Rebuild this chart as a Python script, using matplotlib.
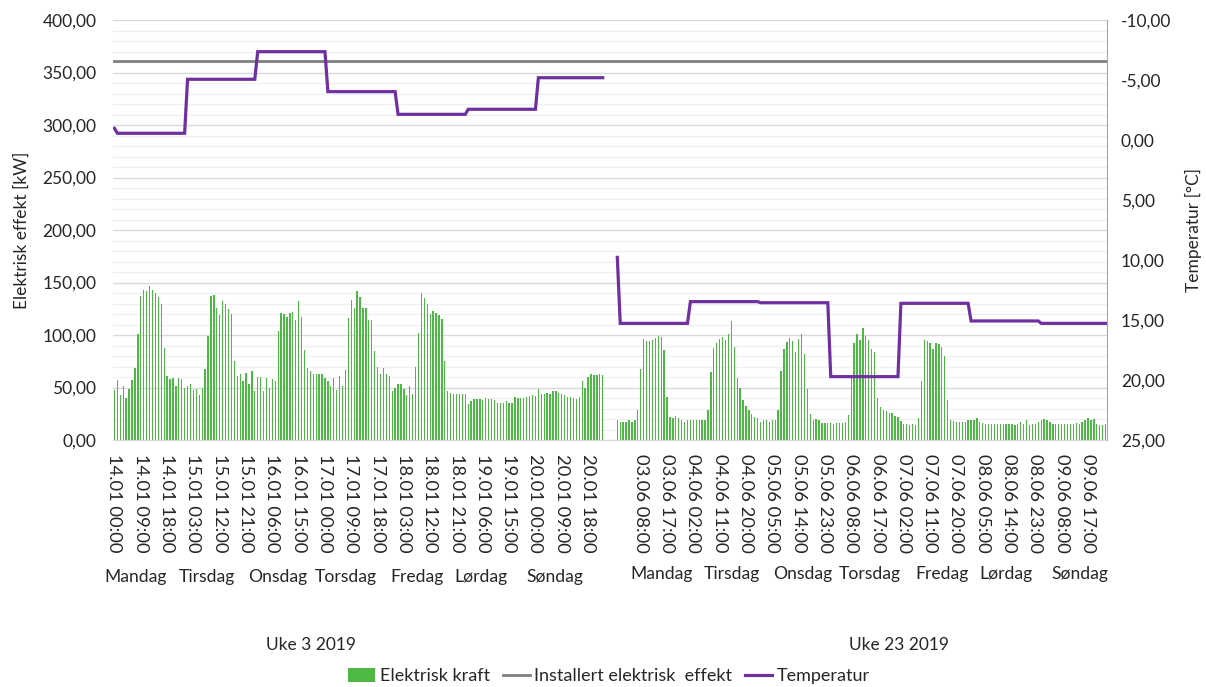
import numpy as np
import matplotlib
matplotlib.use("Agg")
import matplotlib.pyplot as plt
from matplotlib.ticker import MultipleLocator, FuncFormatter
from matplotlib.patches import Patch
from matplotlib.lines import Line2D

plt.rcParams['font.family'] = ['Lato', 'DejaVu Sans']

# ---------------- data ----------------
# Hourly electric power [kW], week 3 2019 (14.01 00:00 - 20.01 23:00)
week3_power = [
    48, 57, 43, 51, 40, 49, 57, 69, 101, 137, 143, 142, 147, 143, 140, 136, 130, 88, 61, 58, 59, 51, 59, 58,
    50, 51, 53, 48, 49, 43, 50, 68, 99, 137, 138, 126, 119, 132, 130, 125, 120, 75, 61, 63, 56, 64, 53, 66,
    47, 60, 60, 47, 59, 50, 58, 56, 104, 121, 120, 117, 121, 122, 114, 132, 117, 86, 69, 66, 63, 63, 63, 63,
    59, 56, 51, 59, 48, 61, 51, 67, 116, 133, 126, 142, 136, 126, 126, 114, 114, 85, 70, 63, 69, 63, 61, 47,
    50, 53, 53, 49, 43, 51, 44, 70, 102, 140, 135, 130, 120, 123, 121, 119, 115, 75, 47, 45, 44, 44, 44, 44,
    44, 34, 37, 39, 39, 39, 38, 40, 39, 39, 38, 35, 35, 35, 37, 35, 35, 41, 40, 40, 40, 41, 42, 43,
    42, 49, 44, 44, 45, 44, 47, 47, 45, 44, 43, 41, 41, 40, 39, 41, 56, 50, 60, 63, 62, 62, 63, 62,
]
# Hourly electric power [kW], week 23 2019 (03.06 00:00 - 09.06 23:00)
week23_power = [
    19, 17.5, 17.5, 17.5, 19, 17.5, 19, 28.6, 68, 96, 94, 94, 95, 97, 99, 98, 86, 41, 22, 21, 23, 21, 19, 17.5,
    19, 19, 19, 19, 19, 19, 19, 28.6, 65, 88, 92, 96, 98, 95, 101, 113, 89, 59, 50, 38, 32, 29, 25, 22,
    21, 17.5, 19, 19, 17.5, 19, 19, 28.6, 66, 87, 93, 97, 94, 84, 96, 101, 82, 49, 25, 19, 20, 19, 16, 16,
    16, 16, 15, 16, 16, 16, 17.5, 24, 62, 92, 101, 95, 107, 99, 95, 87, 84, 40, 31, 29, 28, 26, 26, 23,
    22, 18, 15, 15, 14, 15, 14, 21, 56, 95, 94, 92, 87, 92, 91, 89, 80, 38, 19, 18, 17, 17, 17.5, 17.5,
    19, 19, 19, 21, 17.5, 16, 15, 15, 15, 15, 15, 15, 15, 15, 15, 15, 14, 15, 17.5, 15, 19, 14, 15, 15,
    17, 19, 20, 19, 17, 15, 15, 15, 15, 15, 15, 15, 15, 16, 15, 17.5, 19, 21, 19, 20, 15, 14, 14, 15,
]
# Daily temperature [°C] (first entry = value at first hour, then Mon..Sun)
week3_temp_daily = [-0.97, -0.56, -5.06, -7.36, -4.03, -2.14, -2.56, -5.19]
week23_temp_daily = [9.78, 15.28, 13.47, 13.56, 19.72, 13.61, 15.08, 15.28]
installed_power = 361.0
gap_hours = 4

week3_ticklabels = ["14.01 00:00", "14.01 09:00", "14.01 18:00", "15.01 03:00", "15.01 12:00",
                    "15.01 21:00", "16.01 06:00", "16.01 15:00", "17.01 00:00", "17.01 09:00",
                    "17.01 18:00", "18.01 03:00", "18.01 12:00", "18.01 21:00", "19.01 06:00",
                    "19.01 15:00", "20.01 00:00", "20.01 09:00", "20.01 18:00"]
week23_ticklabels = ["", "03.06 08:00", "03.06 17:00", "04.06 02:00", "04.06 11:00", "04.06 20:00",
                     "05.06 05:00", "05.06 14:00", "05.06 23:00", "06.06 08:00", "06.06 17:00",
                     "07.06 02:00", "07.06 11:00", "07.06 20:00", "08.06 05:00", "08.06 14:00",
                     "08.06 23:00", "09.06 08:00", "09.06 17:00"]
days = ["Mandag", "Tirsdag", "Onsdag", "Torsdag", "Fredag", "Lørdag", "Søndag"]
week_titles = ["Uke 3 2019", "Uke 23 2019"]


def hourly_temp(daily):
    out = [daily[0]]
    for v in daily[1:]:
        out += [v] * 24
    return out[:168]


gap = [np.nan] * gap_hours
power_all = np.array(week3_power + gap + week23_power, dtype=float)
temp_all = np.array(hourly_temp(week3_temp_daily) + gap + hourly_temp(week23_temp_daily), dtype=float)
n = len(power_all)
x = np.arange(n)
installed_all = np.full(n, installed_power)

# ---------------- figure ----------------
W, H = 1206, 687
fig = plt.figure(figsize=(W / 100, H / 100), dpi=100)
ax = fig.add_axes([113 / W, 1 - 440 / H, (1107 - 113) / W, (440 - 20) / H])
ax2 = ax.twinx()

green = '#4DB843'
ax.bar(x, power_all, width=0.45, color=green, zorder=2)
ax.plot(x, installed_all, color='#7F7F7F', lw=2.0, zorder=3)
ax2.plot(x, temp_all, color='#7030A0', lw=2.3, solid_joinstyle='miter')

ax.set_xlim(-0.5, n - 0.5)
ax.set_ylim(0, 400)
ax2.set_ylim(25, -10)

txtc = '#262626'
fs = 12.5
ax.yaxis.set_major_locator(MultipleLocator(50))
ax.yaxis.set_minor_locator(MultipleLocator(10))
ax.yaxis.set_major_formatter(FuncFormatter(lambda v, p: f"{v:.2f}".replace('.', ',')))
ax2.yaxis.set_major_locator(MultipleLocator(5))
ax2.yaxis.set_major_formatter(FuncFormatter(lambda v, p: f"{v:.2f}".replace('.', ',').replace('-0,00', '0,00')))
ax.grid(axis='y', which='major', color='#d9d9d9', lw=1.0)
ax.grid(axis='y', which='minor', color='#f0f0f0', lw=1.0)
ax.set_axisbelow(True)

ticks = list(range(0, 168, 9)) + list(range(171, n, 9))
labels = week3_ticklabels + week23_ticklabels
ax.set_xticks(ticks)
ax.set_xticklabels(labels, rotation=270, fontsize=13.2, color=txtc, va='top', ha='center')
ax.tick_params(axis='x', length=0, pad=10)
ax.tick_params(axis='y', which='both', length=0, labelsize=fs, labelcolor=txtc, pad=12)
ax2.tick_params(axis='y', which='both', length=0, labelsize=fs, labelcolor=txtc, pad=10)

for s in ['left', 'top']:
    ax.spines[s].set_visible(False)
    ax2.spines[s].set_visible(False)
ax.spines['right'].set_visible(False)
ax.spines['bottom'].set_color('#d9d9d9')
ax2.spines['bottom'].set_visible(False)
ax2.spines['right'].set_color('#a6a6a6')

ax.set_ylabel("Elektrisk effekt [kW]", fontsize=fs, color=txtc, labelpad=9)
ax2.set_ylabel("Temperatur [°C]", fontsize=fs, color=txtc, labelpad=10)

# day labels below the date labels
dfs = 12.6
day_x3 = [136, 207, 278, 346, 417, 481, 555]
day_x23 = [662, 732, 803, 870, 942, 1006, 1080]
for d, xp in zip(days, day_x3):
    fig.text(xp / W, 1 - 577 / H, d, fontsize=dfs, color=txtc, ha='center', va='center')
for d, xp in zip(days, day_x23):
    fig.text(xp / W, 1 - 574 / H, d, fontsize=dfs, color=txtc, ha='center', va='center')
fig.text(311 / W, 1 - 645 / H, week_titles[0], fontsize=fs, color=txtc, ha='center', va='center')
fig.text(899 / W, 1 - 645 / H, week_titles[1], fontsize=fs, color=txtc, ha='center', va='center')

handles = [Patch(facecolor=green, edgecolor='none'),
           Line2D([], [], color='#7F7F7F', lw=2.0),
           Line2D([], [], color='#7030A0', lw=2.3)]
fig.legend(handles, ["Elektrisk kraft", "Installert elektrisk  effekt", "Temperatur"],
           loc='center', bbox_to_anchor=(609 / W, 1 - 676 / H), ncol=3, frameon=False,
           fontsize=13, handlelength=1.5, handleheight=0.8, handletextpad=0.25,
           columnspacing=0.7, labelcolor=txtc)

fig.savefig("out.png", dpi=100)
